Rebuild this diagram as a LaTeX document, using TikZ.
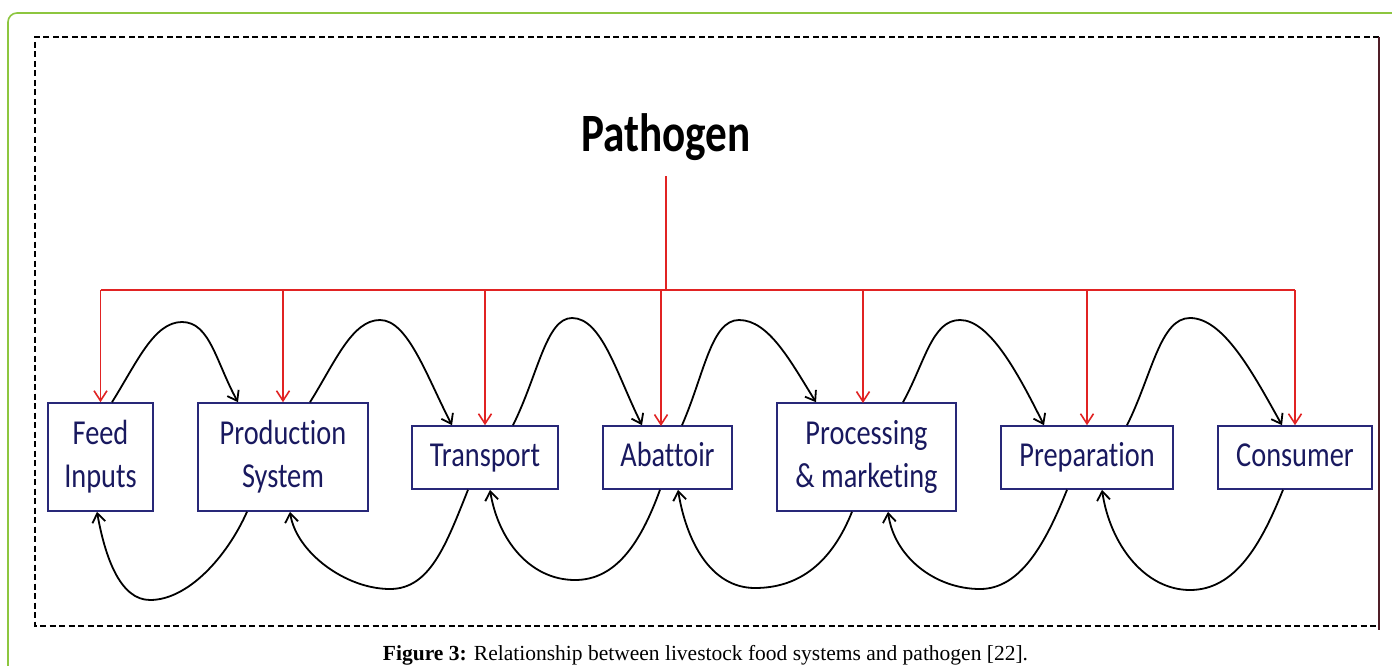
\documentclass[tikz,border=0pt]{standalone}
\usepackage{fontspec}
\setmainfont{Carlito}[Ligatures={NoCommon,NoContextual}]
\newfontfamily\capfont{Liberation Serif}
\usetikzlibrary{arrows.meta}
\definecolor{navyline}{RGB}{40,40,120}
\definecolor{navytext}{RGB}{25,25,95}
\definecolor{pred}{RGB}{225,35,35}
\definecolor{framegreen}{RGB}{141,198,63}
\definecolor{edgemaroon}{RGB}{80,30,40}
\tikzset{
  boxnode/.style={draw=navyline, line width=1.6pt, fill=white, inner sep=0pt, text=navytext},
  redline/.style={draw=pred, line width=1.7pt},
  redarrow/.style={redline, -{Straight Barb[length=10pt,width=13pt,line width=1.6pt]}},
  flow/.style={draw=black, line width=1.8pt, -{Straight Barb[length=9pt,width=13pt,line width=1.8pt]}},
  dashframe/.style={draw=black, line width=1.4pt, dash pattern=on 6pt off 3.5pt},
}
\newcommand{\bt}[1]{\raisebox{-3.5pt}{\scalebox{0.81}[1]{\fontsize{35}{43}\selectfont\begin{tabular}{@{}c@{}}#1\end{tabular}}}}
\begin{document}
\begin{tikzpicture}[x=1pt,y=-1pt]
\useasboundingbox (0,0) rectangle (1392,666);
\fill[white] (0,0) rectangle (1392,666);
% outer green frame
\draw[framegreen, line width=1.6pt, rounded corners=9pt] (8,700) -- (8,13) -- (1430,13);
% dashed frame
\draw[dashframe] (1379,37) -- (35,37) -- (35,626) -- (1379,626);
\draw[edgemaroon, line width=1.6pt] (1379,37) -- (1379,630);

% title
\node[anchor=base, inner sep=0pt] (pathogen) at (666,152)
  {\scalebox{0.8}[1]{\fontsize{54}{60}\selectfont\bfseries Pathogen}};

% boxes
\node[boxnode, minimum width=105pt, minimum height=108pt] (feed)  at (100.5,457) {\bt{Feed\\Inputs}};
\node[boxnode, minimum width=170pt, minimum height=108pt] (prod)  at (283,457)   {\bt{Production\\System}};
\node[boxnode, minimum width=146pt, minimum height=63pt]  (trans) at (485,457.5) {\bt{Transport}};
\node[boxnode, minimum width=129pt, minimum height=63pt]  (abat)  at (667.5,457.5) {\bt{Abattoir}};
\node[boxnode, minimum width=179pt, minimum height=108pt] (proc)  at (866.5,457) {\bt{Processing\\\& marketing}};
\node[boxnode, minimum width=172pt, minimum height=63pt]  (prep)  at (1087,457.5) {\bt{Preparation}};
\node[boxnode, minimum width=154pt, minimum height=63pt]  (cons)  at (1295,457.5) {\bt{Consumer}};

% red distribution
\coordinate (trunk) at (666,176);
\coordinate (bus) at (666,290);
\coordinate (abatin) at (661,426);
\coordinate (procin) at (863,403);
\draw[redline] (trunk) -- (bus);
\draw[redline] (feed.north |- bus) -- (cons.north |- bus);
\foreach \n in {feed,prod,trans,abatin,procin,prep,cons}
  \draw[redarrow] (\n.north |- bus) -- (\n.north);

% top arcs (forward)
\draw[flow] ([xshift=11.5pt]feed.north) .. controls +(25,-40) and +(-28,0) .. (182,322)
  .. controls +(28,0) and +(-22,-40) .. ([xshift=-45pt]prod.north);
\draw[flow] ([xshift=27pt]prod.north) .. controls +(25,-40) and +(-28,0) .. (380,320)
  .. controls +(28,0) and +(-25,-48) .. ([xshift=-33pt]trans.north);
\draw[flow] ([xshift=28pt]trans.north) .. controls +(25,-50) and +(-26,0) .. (572,318)
  .. controls +(30,0) and +(-25,-50) .. ([xshift=-25.5pt]abat.north);
\draw[flow] ([xshift=14.5pt]abat.north) .. controls +(22,-50) and +(-28,0) .. (739,320)
  .. controls +(30,0) and +(-25,-40) .. ([xshift=-50.5pt]proc.north);
\draw[flow] ([xshift=36.5pt]proc.north) .. controls +(22,-40) and +(-28,0) .. (960,320)
  .. controls +(30,0) and +(-25,-50) .. ([xshift=-43pt]prep.north);
\draw[flow] ([xshift=40pt]prep.north) .. controls +(25,-50) and +(-30,0) .. (1190,318)
  .. controls +(34,0) and +(-28,-50) .. ([xshift=-13pt]cons.north);

% bottom arcs (backward)
\draw[flow] ([xshift=-36pt]prod.south) .. controls +(-20,45) and +(38,0) .. (150,600)
  .. controls +(-30,0) and +(8,45) .. ([xshift=-3.5pt]feed.south);
\draw[flow] ([xshift=-17pt]trans.south) .. controls +(-22,55) and +(40,0) .. (390,589)
  .. controls +(-45,0) and +(6,40) .. ([xshift=7pt]prod.south);
\draw[flow] ([xshift=-7.5pt]abat.south) .. controls +(-20,55) and +(40,0) .. (575,580)
  .. controls +(-45,0) and +(8,50) .. ([xshift=5pt]trans.south);
\draw[flow] ([xshift=-14.5pt]proc.south) .. controls +(-20,50) and +(45,0) .. (755,588)
  .. controls +(-45,0) and +(8,50) .. ([xshift=10.5pt]abat.south);
\draw[flow] ([xshift=-20pt]prep.south) .. controls +(-22,55) and +(40,0) .. (980,589)
  .. controls +(-45,0) and +(6,45) .. ([xshift=21.5pt]proc.south);
\draw[flow] ([xshift=-12pt]cons.south) .. controls +(-22,55) and +(45,0) .. (1190,590)
  .. controls +(-45,0) and +(8,55) .. ([xshift=15pt]prep.south);

% caption
\node[anchor=base, inner sep=0pt] (caption) at (705.5,660)
  {\capfont\fontsize{21.5}{24}\selectfont\textbf{Figure 3:} Relationship between livestock food systems and pathogen [22].};
\end{tikzpicture}
\end{document}
